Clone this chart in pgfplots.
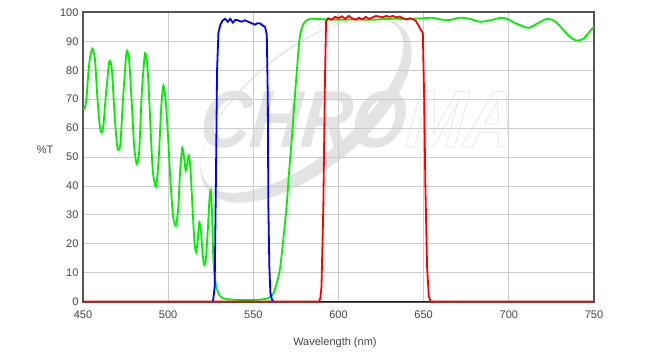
\documentclass[border=0pt]{standalone}
\usepackage{fontspec}
\setmainfont{Liberation Sans}
\usepackage{pgfplots}
\pgfplotsset{compat=1.18}
\definecolor{gridc}{HTML}{CCCCCC}
\definecolor{framec}{HTML}{555555}
\definecolor{tickc}{HTML}{444444}
\definecolor{lgreen}{HTML}{00F000}
\definecolor{wm}{HTML}{E3E3E3}
\newcommand{\outl}[1]{\special{pdf:code 1 Tr 0.8 w}#1\special{pdf:code 0 Tr}}
\begin{document}
\begin{tikzpicture}[x=1pt,y=1pt]
\useasboundingbox (-83,-52.5) rectangle (569,301.5);
% watermark
\fill[wm, even odd rule, rotate around={39:(223,191.5)}]
  (223,191.5) ellipse [x radius=127, y radius=60]
  (223,197.5) ellipse [x radius=123, y radius=52.5];
\node[anchor=base west, inner sep=0, xscale=0.865, xslant=0.12, font=\fontsize{81}{81}\selectfont\bfseries\itshape] at (115,154.5) {\textcolor{wm}{CHRO\outl{MA}}};
\begin{axis}[
  at={(0,0)}, anchor=south west,
  scale only axis, width=511pt, height=289pt,
  xmin=450, xmax=750, ymin=0, ymax=100,
  xtick={450,500,...,750}, ytick={0,10,...,100},
  grid=major, major grid style={gridc, line width=0.8pt},
  axis line style={framec, line width=2pt},
  tick style={draw=none},
  ticklabel style={font=\fontsize{11}{11}\selectfont, text=tickc},
  /pgf/number format/assume math mode=true,
  xticklabel style={yshift=-6pt},
  yticklabel style={xshift=-1pt},
  xlabel={Wavelength (nm)}, ylabel={\%T},
  every axis x label/.style={at={(axis description cs:0.493,-0.144)}, anchor=center, font=\fontsize{11}{11}\selectfont, text=tickc},
  every axis y label/.style={at={(axis description cs:-0.074,0.524)}, anchor=center, font=\fontsize{11}{11}\selectfont, text=tickc},
  clip=false,
]
\addplot[lgreen, line width=1.8pt, smooth, tension=0.4] coordinates {
(450,66.5)(451,66.8)(452,70)(453,78)(454,84)(455.5,87.5)(457,84)(458.5,70)(460,60)(461,58.5)(462,61)(463.5,72)
(465.5,83.2)(467,80)(468.5,65)(470,54)(471,52.5)(472,55)(473.5,70)(475.5,86.2)(477,84)(478.5,70)(480,54)(481.5,47.6)
(483,52)(484.5,72)(486.4,85.9)(488,80)(489.5,62)(491,45)(492.9,39.7)(494.5,50)(496,68)(497.2,74.7)(498.5,70)(500,56)
(501.5,40)(503,29)(504.6,26.2)(506,33)(507,45)(508.3,53.2)(509.5,49)(510.3,45.3)(511.2,48)(512.2,50.5)(513.2,45)
(514.5,30)(515.5,20)(516.4,17)(517.3,21)(518.3,27.4)(519.3,24)(520.3,16)(521.2,12.6)(522.2,15)(523.3,25)(524.2,35)
(525,38.6)(525.8,30)(526.5,15)(527.5,8)(528.5,4.5)(530,2.2)(532,1.2)(536,0.7)(545,0.5)(552,0.6)(556,0.8)(558,1)
(560,1.6)(562,3)(564,7)(565.7,11.5)(567.5,21)(569.6,33.4)(571,45)(572.6,56.5)(574,68)(575.5,79.5)(576.5,87)
(577.4,92.2)(579,95.5)(580.4,96.8)(583.3,97.8)(590,97.7)(600,97.5)(610,97.6)(620,97.5)(630,97.8)(640,97.8)
(650,98)(655,98.2)(660,97.6)(665,97.4)(671.4,98.2)(677,97.8)(683.1,96.8)(689,97.3)(695.8,98.2)(700,97.5)(705,96)
(711.5,94.7)(717,96.3)(722.3,97.8)(727,97)(732,94)(736,91.5)(739.9,90.3)(744,91)(748.7,94.3)(750,94.8)
};
\addplot[blue, line width=1.8pt] coordinates {
(526.3,0)(527.3,5)(528,40)(528.7,80)(529.5,93)(530.5,95.5)(532,97.3)(533.5,97.8)(535,96.8)(536.5,97.8)
(538,96.5)(539.5,97.5)(541,97.3)(543,96.8)(545,97.3)(547,96.8)(549,96.3)(551,95.8)(552.5,96.3)(554,96.2)(555.5,95.5)
(556.9,95)(557.9,92.2)(558.5,70)(558.8,33.4)(559.4,12)(560,3)(561,0.5)(562,0)
};
\addplot[blue, line width=1.8pt] coordinates {(589,0)(654,0)};
\addplot[red, line width=1.8pt] coordinates {
(450,0)(588.5,0)(589.3,1)(590,5)(591.1,33)(592,75)(592.7,97)(594,98)(596,97.5)(598,98.5)(600,98)(602,98.7)
(604,97.8)(606,98.8)(608,98)(610,97.5)(612,98.2)(614,97.6)(616,98.5)(618,97.8)(620,98.3)(622,98.8)(624,98.6)
(626,98.3)(628,98.8)(630,98.5)(632,98.8)(634,98.3)(636,98.6)(638,98)(640,97.6)(642,98)(644,97.6)(645.5,97)
(647,95.5)(648.3,94)(649.5,93)(650.3,70)(651,40)(652,12)(653,2)(654,0)(750,0)
};
\end{axis}
\end{tikzpicture}
\end{document}
